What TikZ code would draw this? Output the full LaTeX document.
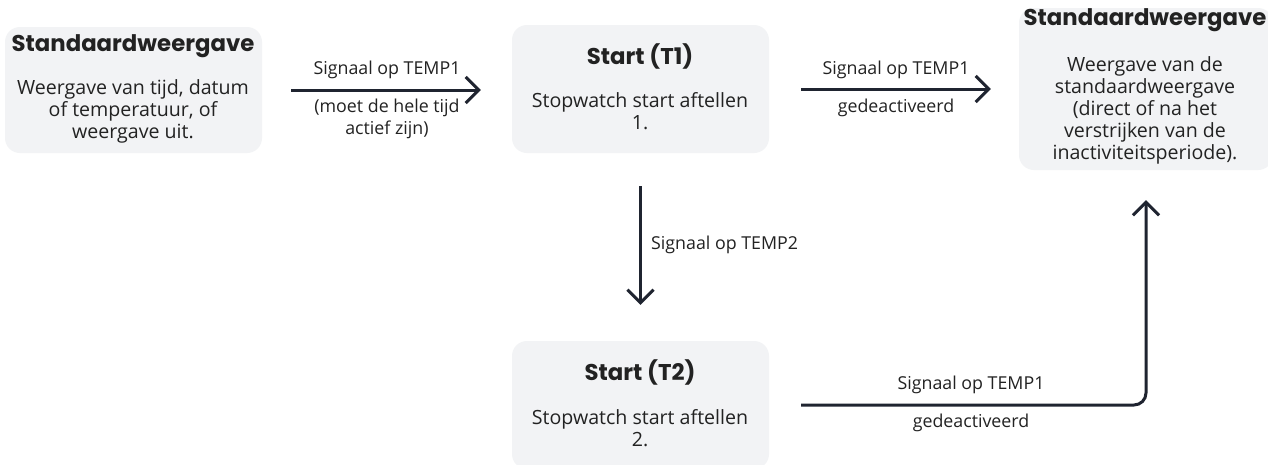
\documentclass[tikz,border=0pt]{standalone}
\usepackage{fontspec}
\setmainfont{Open Sans}
\newfontfamily\titlefont{Poppins}
\usetikzlibrary{arrows.meta,calc}
\definecolor{boxfill}{HTML}{F2F3F5}
\definecolor{arrowcol}{HTML}{1F2430}
\definecolor{txt}{HTML}{222222}
\begin{document}
\begin{tikzpicture}[x=1pt,y=-1pt,
  card/.style={draw=none,fill=boxfill,rounded corners=15pt,inner sep=0pt},
  ttl/.style={font=\titlefont\bfseries\fontsize{22.8}{26}\selectfont,text=txt,inner sep=0pt},
  body/.style={font=\fontsize{19.6}{22}\selectfont,text=txt,align=center,inner sep=0pt},
  lbl/.style={font=\fontsize{17.8}{22}\selectfont,text=txt,align=center,inner sep=0pt},
  arr/.style={draw=arrowcol,line width=3pt,-{Straight Barb[length=13pt,width=26pt,line width=3pt]}}]
\useasboundingbox (0,0) rectangle (1268,464);
\fill[white] (0,0) rectangle (1268,464);
% boxes
\node[card,minimum width=257pt,minimum height=126pt] (b1) at (133.5,90) {};
\node[card,minimum width=257pt,minimum height=128pt] (b2) at (640.5,89) {};
\node[card,minimum width=254pt,minimum height=162pt] (b3) at (1146,89) {};
\node[card,minimum width=257pt,minimum height=128pt] (b4) at (640.5,405) {};
% texts
\node[ttl] (t1) at (133,46) {Standaardweergave};
\node[body] (d1) at (133,111) {Weergave van tijd, datum\\of temperatuur, of\\weergave uit.};
\node[ttl] (t2) at (640,56) {Start (T1)};
\node[body] (d2) at (640,111) {Stopwatch start aftellen\\1.};
\node[ttl] (t3) at (1145,20) {Standaardweergave};
\node[body] (d3) at (1145,110) {Weergave van de\\standaardweergave\\(direct of na het\\verstrijken van de\\inactiviteitsperiode).};
\node[ttl] (t4) at (640,372) {Start (T2)};
\node[body] (d4) at (640,428.5) {Stopwatch start aftellen\\2.};
% arrows
\draw[arr,shorten <=29pt,shorten >=31pt] (b1.east) -- (b1.east -| b2.west);
\draw[arr,shorten <=32pt,shorten >=28pt] (b2.east) -- (b2.east -| b3.west);
\draw[arr,shorten <=33pt,shorten >=36pt] (b2.south) -- (b4.north);
\draw[arr,rounded corners=12pt,shorten <=32pt,shorten >=30pt] (b4.east) -- (b4.east -| b3.south) -- (b3.south);
% labels
\node[lbl] (l1a) at (387,70) {Signaal op TEMP1};
\node[lbl] (l1b) at (387,119) {(moet de hele tijd\\actief zijn)};
\node[lbl] (l2a) at (896,70) {Signaal op TEMP1};
\node[lbl] (l2b) at (896,108) {gedeactiveerd};
\node[lbl,anchor=west] (l3) at (651,245) {Signaal op TEMP2};
\node[lbl] (l4a) at (971,385) {Signaal op TEMP1};
\node[lbl] (l4b) at (971,423) {gedeactiveerd};
\end{tikzpicture}
\end{document}
